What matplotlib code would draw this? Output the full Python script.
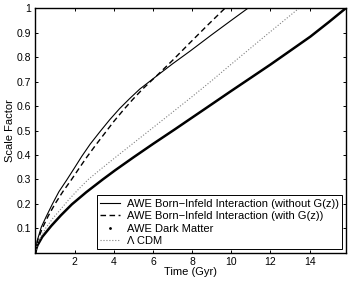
import matplotlib
matplotlib.use("Agg")
import matplotlib.pyplot as plt
from matplotlib.lines import Line2D

plt.rcParams['font.family'] = ['Liberation Sans', 'DejaVu Sans']
plt.rcParams['font.size'] = 8

# values (time in Gyr, scale factor)
t_bi = [0, 0.1, 0.3, 0.55, 0.87, 1.2, 1.6, 2.0, 2.37, 2.8, 3.31, 3.8, 4.3, 4.8, 5.33, 6.2, 7.0, 7.91, 9.0, 10.0, 10.84]
a_bi = [0, 0.052, 0.105, 0.148, 0.2, 0.25, 0.298, 0.348, 0.395, 0.445, 0.497, 0.545, 0.59, 0.63, 0.67, 0.724, 0.773, 0.826, 0.892, 0.951, 1.0]

t_big = [0, 0.1, 0.35, 0.65, 1.0, 1.4, 1.83, 2.2, 2.63, 3.1, 3.57, 4.0, 4.5, 5.0, 5.5, 6.2, 7.0, 7.9, 8.8, 9.67]
a_big = [0, 0.048, 0.1, 0.15, 0.2, 0.25, 0.298, 0.342, 0.392, 0.443, 0.492, 0.537, 0.585, 0.63, 0.672, 0.725, 0.787, 0.86, 0.932, 1.0]

t_dm = [0, 0.03, 0.1, 0.35, 0.81, 1.3, 1.86, 2.6, 3.44, 4.08, 5.0, 6.0, 7.12, 8.0, 8.68, 9.96, 11.0, 12.0, 13.0, 14.05, 15.0, 15.84]
a_dm = [0, 0.013, 0.03, 0.065, 0.11, 0.153, 0.198, 0.248, 0.3, 0.338, 0.39, 0.445, 0.505, 0.553, 0.59, 0.66, 0.716, 0.77, 0.826, 0.885, 0.945, 1.0]

t_lcdm = [0, 0.1, 0.52, 0.9, 1.26, 1.7, 2.2, 2.7, 3.29, 4.08, 5.5, 6.7, 7.91, 9.0, 9.96, 11.7, 13.45]
a_lcdm = [0, 0.038, 0.1, 0.142, 0.175, 0.217, 0.26, 0.3, 0.339, 0.39, 0.48, 0.556, 0.633, 0.704, 0.769, 0.885, 1.0]

labels = ['AWE Born\u2212Infeld Interaction (without G(z))',
          'AWE Born\u2212Infeld Interaction (with G(z))',
          'AWE Dark Matter',
          '\u039b CDM']

fig = plt.figure(figsize=(3.51, 2.81), dpi=100)
ax = fig.add_axes([0.101, 0.1007, 0.884, 0.8693])

l1, = ax.plot(t_bi, a_bi, '-', color='k', lw=0.8)
l2, = ax.plot(t_big, a_big, '--', color='k', lw=1.0, dashes=(4, 2.5))
l3, = ax.plot(t_dm, a_dm, '-', color='k', lw=1.8)
l4, = ax.plot(t_lcdm, a_lcdm, ':', color='#808080', lw=0.8)

ax.set_xlim(0, 15.85)
ax.set_ylim(0, 1)
ax.set_xticks([2, 4, 6, 8, 10, 12, 14])
ax.set_yticks([0.1, 0.2, 0.3, 0.4, 0.5, 0.6, 0.7, 0.8, 0.9, 1.0])
ax.set_yticklabels(['0.1', '0.2', '0.3', '0.4', '0.5', '0.6', '0.7', '0.8', '0.9', '1'])
ax.tick_params(direction='in', top=True, right=True, length=2.5, width=0.7,
               pad=3, labelsize=7.5)
for s in ax.spines.values():
    s.set_linewidth(1.0)

ax.set_xlabel('Time (Gyr)', labelpad=0)
ax.set_ylabel('Scale Factor', labelpad=1)

# dark matter curve was drawn with point markers, legend shows a dot
dm_handle = Line2D([], [], linestyle='none', marker='.', markersize=2, color='k')
leg = ax.legend([l1, l2, dm_handle, l4], labels, loc='lower right',
                fontsize=8, handlelength=1.8, handletextpad=0.6,
                borderpad=0.3, labelspacing=0.22, borderaxespad=0.3,
                fancybox=False, framealpha=1)
leg.get_frame().set_edgecolor('k')
leg.get_frame().set_linewidth(0.7)

plt.savefig('out.png', dpi=100)
